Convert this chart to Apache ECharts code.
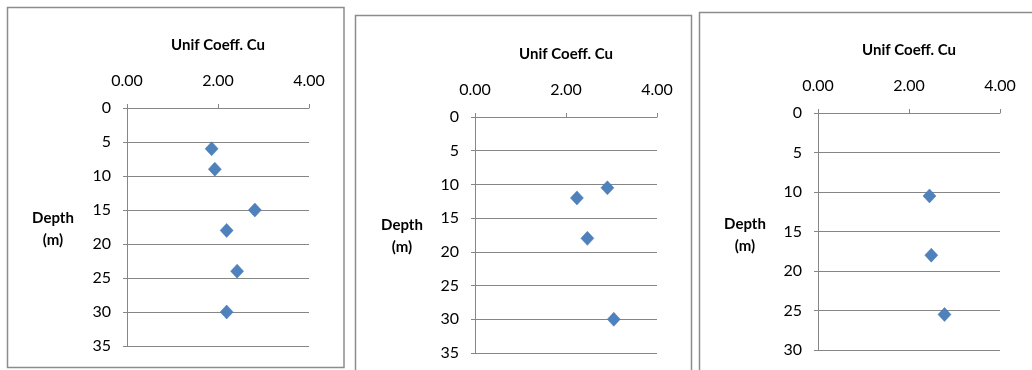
<!DOCTYPE html>
<html>
<head>
<meta charset="utf-8">
<script src="https://cdn.jsdelivr.net/npm/echarts@6/dist/echarts.min.js"></script>
<style>
html,body{margin:0;padding:0;background:#fff;}
#c{width:1032px;height:370px;}
</style>
</head>
<body>
<div id="c"></div>
<script>
// Data
var xTitle = 'Unif Coeff. Cu';
var yTitle = 'Depth\n(m)';
var cu1 = [1.86, 1.93, 2.81, 2.19, 2.42, 2.19];
var depth1 = [6, 9, 15, 18, 24, 30];
var cu2 = [2.91, 2.24, 2.47, 3.05];
var depth2 = [10.5, 12, 18, 30];
var cu3 = [2.45, 2.49, 2.78];
var depth3 = [10.5, 18, 25.5];
var depthMax = [35, 35, 30];
var cuMax = 4;

var FONT = 'Lato';
var AX = '#868686';
var TXT = '#000';

function zip(xs, ys){ return xs.map(function(x,i){ return [x, ys[i]]; }); }

var grids = [
  {left:127, top:108, width:182, height:238},
  {left:475, top:117, width:182, height:236},
  {left:818, top:113, width:182, height:237}
];
var sets = [zip(cu1, depth1), zip(cu2, depth2), zip(cu3, depth3)];

var xAxes = [], yAxes = [], series = [], graphics = [];
var frames = [
  {x:7.5, y:7.5, w:336.5, h:360},
  {x:355.5, y:15.5, w:336, h:380},
  {x:699.5, y:12.5, w:360, h:380}
];
frames.forEach(function(f){
  graphics.push({type:'rect', shape:{x:f.x, y:f.y, width:f.w, height:f.h},
    style:{fill:'none', stroke:'#8c8c8c', lineWidth:1.5}, z:-1});
});

grids.forEach(function(g, i){
  xAxes.push({
    gridIndex:i, type:'value', position:'top', min:0, max:cuMax, interval:2,
    name: xTitle, nameLocation:'middle', nameGap:55,
    nameTextStyle:{fontFamily:FONT, fontWeight:'bold', fontSize:15, color:TXT},
    axisLine:{show:true, lineStyle:{color:AX, width:1}},
    axisTick:{show:true, length:4, lineStyle:{color:AX}},
    axisLabel:{fontFamily:FONT, fontSize:16, color:TXT, margin:19,
      formatter:function(v){ return v.toFixed(2); }},
    splitLine:{show:false}
  });
  yAxes.push({
    gridIndex:i, type:'value', inverse:true, min:0, max:depthMax[i], interval:5,
    axisLine:{show:true, onZero:false, lineStyle:{color:AX, width:1}},
    axisTick:{show:true, length:4, lineStyle:{color:AX}},
    axisLabel:{fontFamily:FONT, fontSize:16, color:TXT, margin:16},
    splitLine:{show:true, lineStyle:{color:AX, width:1}}
  });
  series.push({
    type:'scatter', xAxisIndex:i, yAxisIndex:i, data:sets[i],
    symbol:'diamond', symbolSize:[13,14],
    itemStyle:{color:'#4F81BD', borderColor:'#4576b0', borderWidth:0.5, opacity:1}
  });
});

var yTitlePos = [{x:53, y:229}, {x:402, y:236}, {x:745, y:235}];
yTitlePos.forEach(function(p){
  graphics.push({type:'text', x:p.x, y:p.y,
    style:{text:yTitle, fontFamily:FONT, fontWeight:'bold', fontSize:15, fill:TXT,
      align:'center', verticalAlign:'middle', lineHeight:22}});
});

var chart = echarts.init(document.getElementById('c'), null, {renderer:'canvas'});
chart.setOption({
  animation:false,
  backgroundColor:'#fff',
  grid: grids.map(function(g){ return Object.assign({containLabel:false}, g); }),
  xAxis: xAxes,
  yAxis: yAxes,
  series: series,
  graphic: graphics
});
</script>
</body>
</html>
